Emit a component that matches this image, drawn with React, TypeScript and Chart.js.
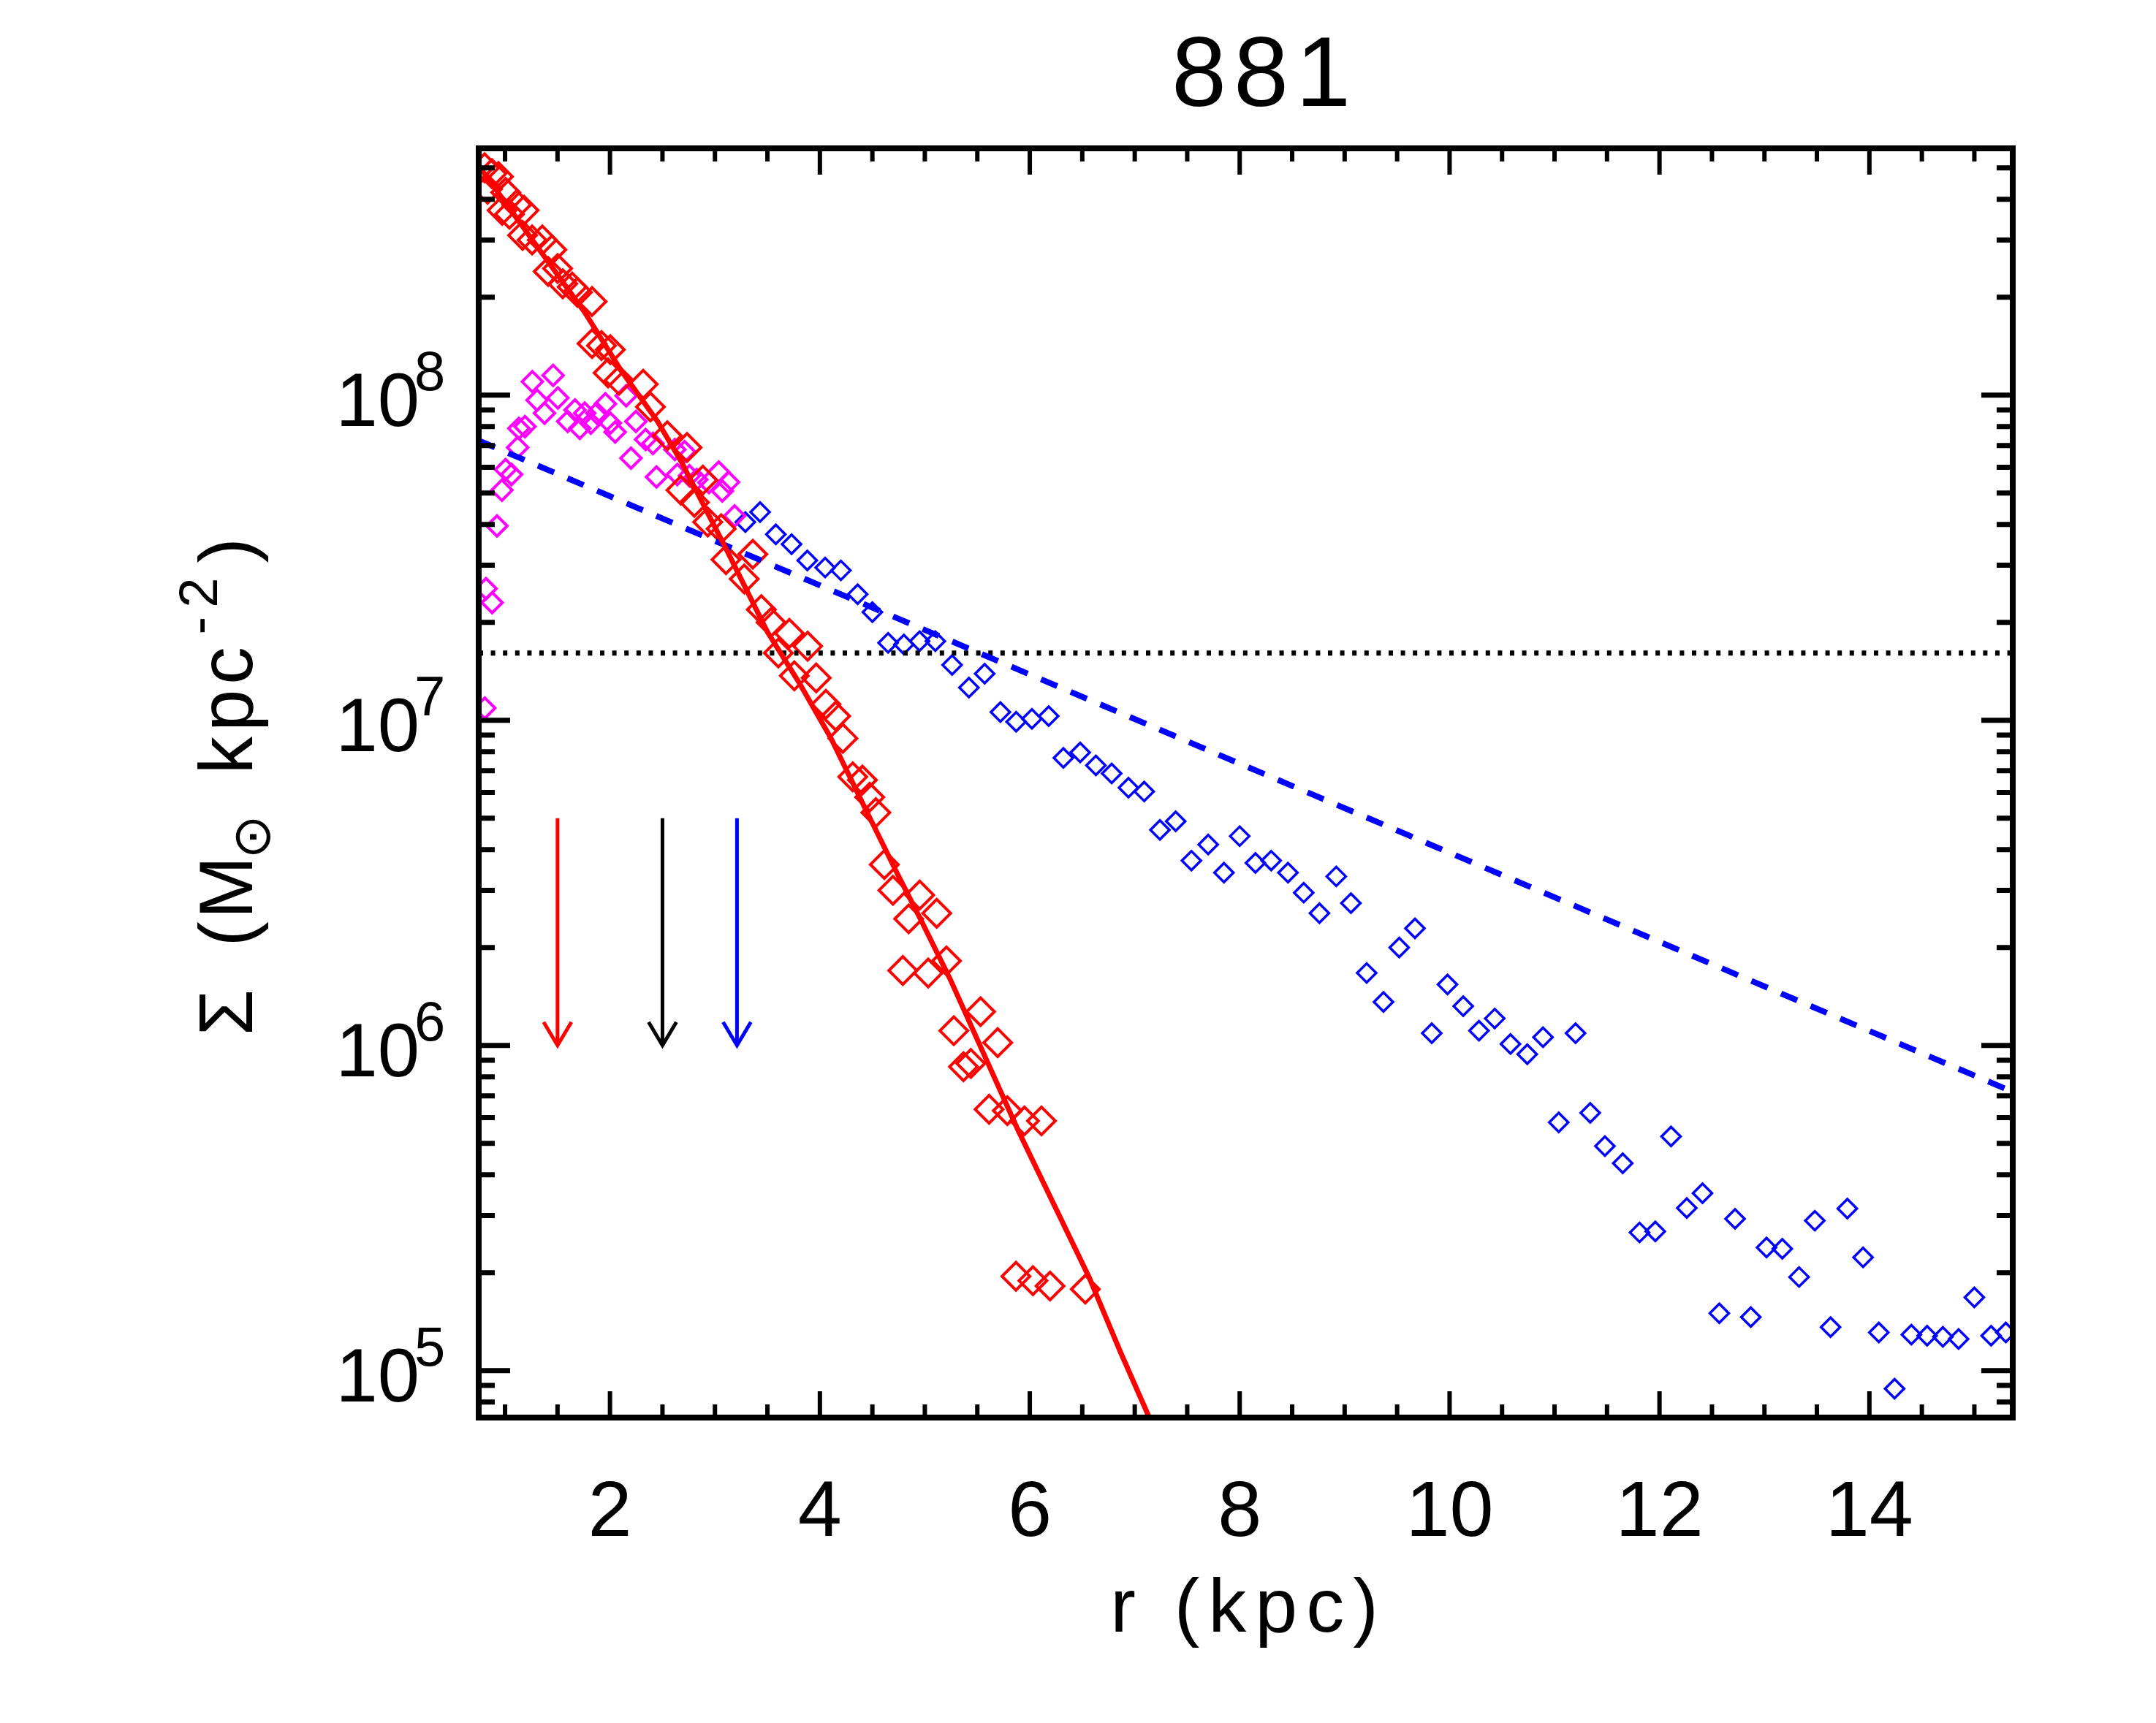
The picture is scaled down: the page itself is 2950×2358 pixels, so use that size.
import { useEffect, useRef } from "react"
import { Chart, registerables, type ChartConfiguration, type Plugin } from "chart.js"

Chart.register(...registerables)

// Surface density profile of object 881, r in kpc, Sigma in Msun kpc^-2

// inner component (red diamonds)
const redR = [
  0.805, 0.833, 0.875, 0.937, 0.972, 1.006, 1.042, 1.111, 1.167, 1.181, 1.258, 1.355, 1.411, 1.446,
  1.501, 1.55, 1.64, 1.69, 1.829, 1.829, 1.919, 2.003, 1.982, 2.086, 2.316, 2.385, 2.546, 2.676,
  2.734, 2.804, 2.885, 2.931, 3.059, 3.105, 3.279, 3.361, 3.442, 3.535, 3.604, 3.709, 3.756, 3.883,
  3.965, 4.057, 4.15, 4.219, 4.313, 4.405, 4.475, 4.533, 4.614, 4.696, 4.79, 4.846, 4.951, 5.032,
  5.113, 5.206, 5.276, 5.368, 5.438, 5.531, 5.612, 5.694, 5.786, 5.949, 6.111, 5.868, 6.03, 6.193,
  6.529,
]
const redSigma = [
  5.0e8, 4.3e8, 4.8e8, 4.7e8, 3.7e8, 4.2e8, 3.6e8, 3.85e8, 3.1e8, 3.7e8, 3.0e8, 3.0e8, 2.4e8, 2.8e8,
  2.45e8, 2.2e8, 2.15e8, 2.07e8, 1.94e8, 1.44e8, 1.42e8, 1.38e8, 1.17e8, 1.11e8, 1.08e8, 9.2e7, 7.5e7,
  5.1e7, 6.9e7, 4.68e7, 5.48e7, 4.07e7, 3.88e7, 3.12e7, 2.72e7, 3.24e7, 2.19e7, 2.0e7, 1.61e7, 1.85e7,
  1.37e7, 1.69e7, 1.35e7, 1.12e7, 1.03e7, 8.8e6, 6.7e6, 6.55e6, 5.8e6, 5.2e6, 3.6e6, 3.0e6, 1.7e6,
  2.45e6, 2.9e6, 1.67e6, 2.55e6, 1.82e6, 1.11e6, 8.6e5, 8.8e5, 1.27e6, 6.36e5, 1.02e6, 6.3e5, 5.86e5,
  5.86e5, 1.95e5, 1.89e5, 1.82e5, 1.78e5,
]

// magenta diamonds
const magentaR = [
  0.807, 0.819, 0.877, 0.923, 0.97, 1.005, 1.062, 1.12, 1.132, 1.19, 1.26, 1.305, 1.376, 1.458, 1.503,
  1.597, 1.666, 1.712, 1.759, 1.817, 1.875, 1.956, 2.003, 2.049, 2.154, 2.2, 2.247, 2.339, 2.409, 2.443,
  2.618, 2.641, 2.711, 2.757, 2.827, 2.943, 3.036, 3.07, 3.129, 3.187,
]
const magentaSigma = [
  1.09e7, 2.54e7, 2.3e7, 3.96e7, 5.1e7, 5.9e7, 5.7e7, 6.9e7, 7.9e7, 8.0e7, 1.1e8, 9.65e7, 8.8e7, 1.15e8,
  9.8e7, 8.3e7, 9.0e7, 7.9e7, 8.8e7, 8.2e7, 8.8e7, 9.4e7, 8.2e7, 7.7e7, 9.95e7, 6.4e7, 8.3e7, 7.3e7,
  7.1e7, 5.6e7, 6.8e7, 5.7e7, 6.7e7, 5.65e7, 5.5e7, 5.38e7, 5.8e7, 5.07e7, 5.4e7, 4.25e7,
]

// outer component (blue diamonds)
const blueR = [
  3.29, 3.43, 3.58, 3.73, 3.88, 4.05, 4.2, 4.36, 4.5, 4.65, 4.8, 4.95, 5.1, 5.26, 5.42, 5.57, 5.72, 5.87,
  6.02, 6.18, 6.32, 6.48, 6.63, 6.78, 6.94, 7.09, 7.24, 7.39, 7.54, 7.7, 7.85, 8.0, 8.15, 8.3, 8.46, 8.61,
  8.76, 8.92, 9.06, 9.21, 9.37, 9.52, 9.67, 9.83, 9.98, 10.13, 10.28, 10.43, 10.58, 10.74, 10.89, 11.04,
  11.2, 11.34, 11.48, 11.65, 11.81, 11.96, 12.11, 12.26, 12.41, 12.57, 12.72, 12.87, 13.02, 13.17, 13.33,
  13.48, 13.63, 13.79, 13.94, 14.09, 14.24, 14.4, 14.55, 14.7, 14.85, 15.0, 15.16, 15.3,
]
const blueSigma = [
  4.07e7, 4.37e7, 3.73e7, 3.48e7, 3.1e7, 2.95e7, 2.89e7, 2.44e7, 2.15e7, 1.73e7, 1.71e7, 1.75e7, 1.75e7,
  1.48e7, 1.26e7, 1.39e7, 1.06e7, 9.9e6, 1.01e7, 1.03e7, 7.66e6, 7.96e6, 7.26e6, 6.86e6, 6.2e6, 6.04e6,
  4.6e6, 4.89e6, 3.7e6, 4.15e6, 3.4e6, 4.4e6, 3.64e6, 3.7e6, 3.4e6, 2.95e6, 2.55e6, 3.31e6, 2.74e6,
  1.67e6, 1.36e6, 2.0e6, 2.29e6, 1.09e6, 1.54e6, 1.32e6, 1.11e6, 1.21e6, 1.01e6, 9.4e5, 1.06e6, 5.8e5,
  1.09e6, 6.2e5, 4.9e5, 4.34e5, 2.66e5, 2.68e5, 5.25e5, 3.16e5, 3.51e5, 1.5e5, 2.93e5, 1.46e5, 2.39e5,
  2.37e5, 1.94e5, 2.89e5, 1.36e5, 3.15e5, 2.23e5, 1.31e5, 8.8e4, 1.29e5, 1.28e5, 1.27e5, 1.25e5, 1.68e5,
  1.28e5, 1.31e5,
]

// fitted profiles
const redFitR = [0.763, 1.758, 2.106, 2.455, 2.684, 3.102, 3.5, 3.799, 4.106, 4.426, 4.733, 4.963, 5.241, 5.889, 6.564, 6.864, 7.136]
const redFitSigma = [5.0e8, 1.8e8, 1.19e8, 8.28e7, 6.2e7, 3.39e7, 1.87e7, 1.31e7, 8.8e6, 5.4e6, 3.4e6, 2.43e6, 1.6e6, 5.48e5, 1.94e5, 1.14e5, 7.2e4]
const blueFitR = [0.749, 15.366]
const blueFitSigma = [7.25e7, 7.2e5]
const thresholdSigma = 1.61e7

// radius markers
const arrowR = [1.5, 2.5, 3.21]
const arrowColors = ["#ff0000", "#000000", "#0000ff"]
const arrowFrom = 5e6
const arrowTo = 1e6

// axes
const xMin = 0.749
const xMax = 15.366
const yMin = 7.17e4
const yMax = 5.74e8
const xTicks = [2, 4, 6, 8, 10, 12, 14]
const xMinorStep = 0.5
const yTicks = [1e5, 1e6, 1e7, 1e8]
const yTickExponents = ["5", "6", "7", "8"]
const titleText = "881"
const xTitle = "r (kpc)"

const FONT = '"Liberation Sans", Arial, Helvetica, sans-serif'

const toPoints = (xs: number[], ys: number[]) => xs.map((x, i) => ({ x, y: ys[i] }))

const yTitleParts = [
  { text: "Σ", size: 103, at: 0, shift: 0, spacing: "0px", family: FONT },
  { text: "(", size: 103, at: 122, shift: 0, spacing: "0px", family: FONT },
  { text: "M", size: 103, at: 160, shift: 0, spacing: "0px", family: FONT },
  { text: "⊙", size: 72, at: 242, shift: 24, spacing: "0px", family: '"DejaVu Sans", sans-serif' },
  { text: "kpc", size: 103, at: 358, shift: 0, spacing: "7px", family: FONT },
  { text: "-2", size: 74, at: 549, shift: -48, spacing: "12px", family: FONT },
  { text: ")", size: 103, at: 647, shift: 0, spacing: "0px", family: FONT },
]

const idlAxes: Plugin = {
  id: "idlAxes",
  afterDatasetsDraw(chart) {
    const { ctx, chartArea: a } = chart
    const xs = chart.scales.x
    const ys = chart.scales.y
    ctx.save()
    ctx.lineCap = "butt"

    // radius arrows
    arrowR.forEach((r, i) => {
      const px = xs.getPixelForValue(r)
      const top = ys.getPixelForValue(arrowFrom)
      const tip = ys.getPixelForValue(arrowTo)
      ctx.strokeStyle = arrowColors[i]
      ctx.lineWidth = 5
      ctx.beginPath()
      ctx.moveTo(px, top)
      ctx.lineTo(px, tip)
      ctx.moveTo(px - 19, tip - 32)
      ctx.lineTo(px, tip)
      ctx.lineTo(px + 19, tip - 32)
      ctx.stroke()
    })

    ctx.strokeStyle = "#000"
    // x ticks, top and bottom, pointing inwards
    ctx.lineWidth = 6
    ctx.beginPath()
    for (let v = Math.ceil(xMin / xMinorStep) * xMinorStep; v <= xMax; v += xMinorStep) {
      const px = xs.getPixelForValue(v)
      const len = xTicks.includes(v) ? 36 : 18
      ctx.moveTo(px, a.bottom)
      ctx.lineTo(px, a.bottom - len)
      ctx.moveTo(px, a.top)
      ctx.lineTo(px, a.top + len)
    }
    ctx.stroke()

    // y ticks, left and right
    ctx.lineWidth = 7
    ctx.beginPath()
    for (let e = Math.floor(Math.log10(yMin)); e <= Math.ceil(Math.log10(yMax)); e++) {
      for (let m = 1; m <= 9; m++) {
        const v = m * Math.pow(10, e)
        if (v < yMin || v > yMax) continue
        const py = ys.getPixelForValue(v)
        const len = m === 1 ? 43 : 22
        ctx.moveTo(a.left, py)
        ctx.lineTo(a.left + len, py)
        ctx.moveTo(a.right, py)
        ctx.lineTo(a.right - len, py)
      }
    }
    ctx.stroke()

    // frame
    ctx.lineWidth = 8
    ctx.strokeRect(a.left, a.top, a.right - a.left, a.bottom - a.top)
    ctx.restore()
  },
  afterDraw(chart) {
    const { ctx, chartArea: a } = chart
    const xs = chart.scales.x
    const ys = chart.scales.y
    const c = ctx as CanvasRenderingContext2D & { letterSpacing: string }
    c.save()
    c.fillStyle = "#000"
    c.textBaseline = "alphabetic"

    c.font = `108px ${FONT}`
    c.textAlign = "center"
    xTicks.forEach((v) => c.fillText(String(v), xs.getPixelForValue(v), a.bottom + 162))

    yTicks.forEach((v, i) => {
      const py = ys.getPixelForValue(v)
      c.font = `103px ${FONT}`
      c.textAlign = "right"
      c.fillText("10", a.left - 81, py + 42)
      c.font = `76px ${FONT}`
      c.textAlign = "left"
      c.fillText(yTickExponents[i], a.left - 88, py - 7)
    })

    c.textAlign = "center"
    c.letterSpacing = "12px"
    c.font = `104px ${FONT}`
    c.fillText(xTitle, (a.left + a.right) / 2 + 4, a.bottom + 293)

    c.letterSpacing = "10px"
    c.font = `135px ${FONT}`
    c.fillText(titleText, (a.left + a.right) / 2 + 26, a.top - 58)

    c.translate(a.left - 310, (a.top + a.bottom) / 2 + 346)
    c.rotate(-Math.PI / 2)
    c.textAlign = "left"
    yTitleParts.forEach((p) => {
      c.letterSpacing = p.spacing
      c.font = `${p.size}px ${p.family}`
      c.fillText(p.text, p.at, p.shift)
    })
    c.letterSpacing = "0px"
    c.restore()
  },
}

function ProfileChart() {
  const canvasRef = useRef<HTMLCanvasElement>(null)
  const chartRef = useRef<Chart | null>(null)

  useEffect(() => {
    if (!canvasRef.current) return
    if (chartRef.current) chartRef.current.destroy()

    const diamonds = (color: string, radius: number, width: number) => ({
      showLine: false,
      pointStyle: "rectRot" as const,
      pointRadius: radius,
      pointHoverRadius: radius,
      pointBorderWidth: width,
      pointHoverBorderWidth: width,
      pointBorderColor: color,
      pointBackgroundColor: "rgba(0,0,0,0)",
      borderColor: color,
      clip: 0,
    })
    const line = (color: string, width: number, dash: number[]) => ({
      showLine: true,
      pointRadius: 0,
      pointHoverRadius: 0,
      borderColor: color,
      borderWidth: width,
      borderDash: dash,
      borderCapStyle: "butt" as const,
      tension: 0,
      fill: false,
      clip: 0,
    })

    const config: ChartConfiguration<"scatter"> = {
      type: "scatter",
      data: {
        datasets: [
          { label: "outer", data: toPoints(blueR, blueSigma), order: 6, ...diamonds("#0000ff", 13, 3.5) },
          { label: "mid", data: toPoints(magentaR, magentaSigma), order: 5, ...diamonds("#ff00ff", 14, 4) },
          { label: "inner", data: toPoints(redR, redSigma), order: 4, ...diamonds("#ff0000", 19, 4) },
          {
            label: "threshold",
            data: [{ x: xMin, y: thresholdSigma }, { x: xMax, y: thresholdSigma }],
            order: 3,
            ...line("#000000", 7, [6, 10.6]),
          },
          { label: "outer fit", data: toPoints(blueFitR, blueFitSigma), order: 2, ...line("#0000ff", 8, [24, 20]) },
          { label: "inner fit", data: toPoints(redFitR, redFitSigma), order: 1, ...line("#ff0000", 7, []) },
        ],
      },
      options: {
        animation: false,
        responsive: false,
        maintainAspectRatio: false,
        devicePixelRatio: 1,
        events: [],
        layout: { padding: { left: 655, right: 196, top: 203, bottom: 418 } },
        scales: {
          x: { type: "linear", min: xMin, max: xMax, bounds: "data", display: false },
          y: { type: "logarithmic", min: yMin, max: yMax, display: false },
        },
        plugins: {
          legend: { display: false },
          tooltip: { enabled: false },
          title: { display: false },
        },
      },
      plugins: [idlAxes],
    }

    chartRef.current = new Chart(canvasRef.current, config)

    return () => {
      if (chartRef.current) {
        chartRef.current.destroy()
        chartRef.current = null
      }
    }
  }, [])

  return <canvas ref={canvasRef} width={2950} height={2358} style={{ display: "block" }} />
}

export default function App() {
  return (
    <div style={{ width: 2950, height: 2358, overflow: "hidden", background: "#fff" }}>
      <style>{"html,body{margin:0;padding:0;overflow:hidden;background:#fff}"}</style>
      <ProfileChart />
    </div>
  )
}
